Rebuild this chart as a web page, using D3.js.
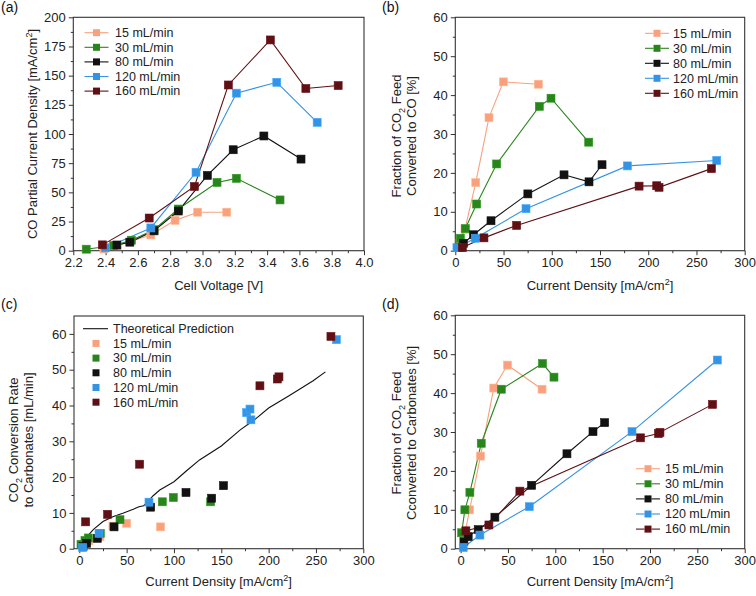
<!DOCTYPE html>
<html><head><meta charset="utf-8">
<script src="https://cdn.jsdelivr.net/npm/d3@7"></script>
<style>body{margin:0;background:#fff} svg text{font-family:"Liberation Sans",Arial,sans-serif}</style>
</head><body><svg id="chart" width="756" height="596"></svg>
<script>
// ---------- data ----------
const flowLabels = ["15 mL/min","30 mL/min","80 mL/min","120 mL/min","160 mL/min"];
const flowColors = ["#F9A17E","#28851C","#111111","#3593E4","#5E1014"];

// (a) Cell voltage [V] vs CO partial current density [mA/cm2]
const a15  = [[2.39,1.5],[2.47,4.2],[2.68,13.5],[2.83,26],[2.97,33],[3.15,33]];
const a30  = [[2.28,1.3],[2.45,4.5],[2.56,9],[2.70,18],[2.85,35.7],[3.09,58.5],[3.21,62],[3.48,43.5]];
const a80  = [[2.47,4.9],[2.55,7.3],[2.70,17],[2.85,34],[3.03,64.5],[3.19,86.5],[3.38,98.3],[3.61,78.5]];
const a120 = [[2.40,2.5],[2.68,19.5],[2.96,67.2],[3.21,135],[3.46,144.3],[3.71,110]];
const a160 = [[2.38,5],[2.67,28],[2.95,55],[3.16,142],[3.42,180.6],[3.64,139],[3.84,141.5]];

// (b) Current density vs fraction of CO2 feed converted to CO [%]
const b15  = [[5,2],[10,5.5],[21.2,17.5],[34.9,34.2],[49.8,43.4],[86.1,42.8]];
const b30  = [[5.2,3.2],[10.4,5.7],[22.1,12],[42.9,22.3],[87.1,37.1],[99.2,39.2],[138.3,27.9]];
const b80  = [[4.5,0.9],[8.3,1.9],[18.9,4.1],[37,7.7],[75.2,14.6],[112.7,19.5],[138.6,17.7],[152.1,22.1]];
const b120 = [[1.7,0.8],[20.7,3.2],[73.3,10.8],[178.4,21.8],[271,23.2]];
const b160 = [[7.3,0.8],[29.7,3.3],[63.6,6.5],[190.5,16.6],[208.8,16.7],[211.2,16.3],[265.5,21.1]];

// (c) Current density vs CO2 conversion rate to carbonates [mL/min]
const cTheory = [[9,3.2],[11,4.2],[15,5.4],[25,7.6],[36,9],[46,9.9],[57,11],[63,11.7],[68,12],[72,13],[78,14.8],[85,16.4],[100,18.7],[113,21.7],[127,24.8],[150,28.7],[170,33.2],[185,36],[200,39.3],[222,42.8],[247,46.9],[260,49.4]];
const c15  = [[5,1.2],[10,2.2],[21.8,3.4],[35.5,6.3],[50,7.1],[85.8,6.1]];
const c30  = [[1.8,1.2],[6,2.3],[9.5,3],[22.2,4.3],[43,8.1],[87.7,13.1],[99.3,14.3],[138.7,13.1]];
const c80  = [[4,0.6],[7.8,1.5],[19,2.9],[36.7,6.1],[75.4,11.6],[112.7,15.7],[139.8,14.1],[152.3,17.6]];
const c120 = [[3.5,0.3],[20.8,4.3],[73.6,13],[176.8,38],[180.3,39],[181.3,36],[271.6,58.4]];
const c160 = [[6.7,7.5],[29.9,9.6],[63.7,23.6],[190.8,45.5],[209.2,47.4],[210.9,48],[265.8,59.3]];

// (d) Current density vs fraction of CO2 feed converted to carbonates [%]
const d15  = [[5,4.5],[9.5,10],[21,23.8],[35,41.3],[49.5,47.2],[86,41]];
const d30  = [[1.1,4.1],[4.5,10],[9.8,14.5],[21.8,27.1],[43,41],[86.5,47.6],[98.6,44.1]];
const d80  = [[3.5,1.8],[8,3.1],[18.6,4.9],[36.2,8.1],[75,16.3],[112.3,24.4],[139.8,30.1],[152.1,32.4]];
const d120 = [[2.8,0.3],[20.4,3.5],[72.5,10.8],[181,30.1],[271.1,48.5]];
const d160 = [[5.6,4.6],[29.9,6.1],[62.6,14.8],[190,28.5],[209,29.6],[210.5,29.9],[266,37.1]];

// tick values
const aXTicks = [2.2,2.4,2.6,2.8,3.0,3.2,3.4,3.6,3.8,4.0];
const aYTicks = [0,25,50,75,100,125,150,175,200];
const cdTicks = [0,50,100,150,200,250,300];
const pctTicks = [0,10,20,30,40,50,60];

// ---------- drawing ----------
const svg = d3.select("#chart");
const FONT = '"Liberation Sans",Arial,sans-serif';

function styleAxis(s){
  s.select(".domain").remove();
  s.attr("font-size",13).attr("font-family",FONT).attr("color","#333");
  s.selectAll("text").attr("fill","#222");
}

function drawPanel(p){
  const g = svg.append("g");
  const x = d3.scaleLinear().domain(p.xDomain).range([p.left,p.right]);
  const y = d3.scaleLinear().domain(p.yDomain).range([p.bottom,p.top]);
  g.append("g").attr("transform",`translate(0,${p.bottom})`)
    .call(d3.axisBottom(x).tickValues(p.xMinor).tickSize(2.5).tickFormat("")).call(styleAxis);
  g.append("g").attr("transform",`translate(${p.left},0)`)
    .call(d3.axisLeft(y).tickValues(p.yMinor).tickSize(2.5).tickFormat("")).call(styleAxis);
  g.append("g").attr("transform",`translate(0,${p.bottom})`)
    .call(d3.axisBottom(x).tickValues(p.xTicks).tickSize(4.5).tickPadding(3).tickFormat(p.xFmt)).call(styleAxis);
  g.append("g").attr("transform",`translate(${p.left},0)`)
    .call(d3.axisLeft(y).tickValues(p.yTicks).tickSize(4.5).tickPadding(3).tickFormat(d3.format("d"))).call(styleAxis);
  g.append("rect").attr("x",p.left).attr("y",p.top).attr("width",p.right-p.left).attr("height",p.bottom-p.top)
    .attr("fill","none").attr("stroke","#333").attr("stroke-width",1.1);
  if(p.theory){
    g.append("path").datum(p.theory).attr("fill","none").attr("stroke","#111").attr("stroke-width",1.1)
      .attr("d",d3.line().x(d=>x(d[0])).y(d=>y(d[1])));
  }
  p.series.forEach((s,i)=>{
    if(p.lines){
      g.append("path").datum(s).attr("fill","none").attr("stroke",flowColors[i]).attr("stroke-width",1.1)
        .attr("d",d3.line().x(d=>x(d[0])).y(d=>y(d[1])));
    }
  });
  p.series.forEach((s,i)=>{
    g.append("g").selectAll("rect").data(s).join("rect")
      .attr("x",d=>x(d[0])-4).attr("y",d=>y(d[1])-4).attr("width",8).attr("height",8)
      .attr("fill",flowColors[i]).attr("stroke",d3.color(flowColors[i]).brighter(0.4)).attr("stroke-width",0.6);
  });
  const L = p.legend;
  let row = 0;
  if(p.theory){
    g.append("line").attr("x1",L.x-13).attr("x2",L.x+12).attr("y1",L.y).attr("y2",L.y).attr("stroke","#111").attr("stroke-width",1.1);
    g.append("text").attr("x",L.tx).attr("y",L.y).attr("dy","0.35em").attr("font-size",12.5).attr("fill","#222").text("Theoretical Prediction");
    row = 1;
  }
  flowLabels.forEach((lab,i)=>{
    const yy = L.y + (row+i)*L.dy;
    if(p.lines){
      g.append("line").attr("x1",L.x-12).attr("x2",L.x-3.5).attr("y1",yy).attr("y2",yy).attr("stroke",flowColors[i]).attr("stroke-width",1.1);
      g.append("line").attr("x1",L.x+3.5).attr("x2",L.x+12).attr("y1",yy).attr("y2",yy).attr("stroke",flowColors[i]).attr("stroke-width",1.1);
    }
    g.append("rect").attr("x",L.x-3.5).attr("y",yy-3.5).attr("width",7).attr("height",7).attr("fill",flowColors[i]);
    g.append("text").attr("x",L.tx).attr("y",yy).attr("dy","0.35em").attr("font-size",12.5).attr("fill","#222").text(lab);
  });
  g.append("text").attr("x",p.label[1]).attr("y",p.label[2]).attr("font-size",14).attr("fill","#111").text(p.label[0]);
  const xt = g.append("text").attr("x",(p.left+p.right)/2).attr("y",p.xTitleY).attr("text-anchor","middle").attr("font-size",13).attr("fill","#222");
  xt.append("tspan").text(p.xTitle[0]);
  if(p.xTitle.length>1){
    xt.append("tspan").attr("font-size",9).attr("dy",-5).text(p.xTitle[1]);
    xt.append("tspan").attr("dy",5).text(p.xTitle[2]);
  }
  p.yTitle.forEach((segs,k)=>{
    const t = g.append("text").attr("transform",`translate(${p.yTitleX[k]},${p.yTitleCY}) rotate(-90)`)
      .attr("text-anchor","middle").attr("dy","0.35em").attr("font-size",13).attr("fill","#222");
    segs.forEach(sg=>{
      if(sg[1]==="sub"){ t.append("tspan").attr("font-size",9).attr("dy",4).text(sg[0]); }
      else if(sg[1]==="sup"){ t.append("tspan").attr("font-size",9).attr("dy",-5).text(sg[0]); }
      else if(sg[1]==="after-sub"){ t.append("tspan").attr("dy",-4).text(sg[0]); }
      else if(sg[1]==="after-sup"){ t.append("tspan").attr("dy",5).text(sg[0]); }
      else { t.append("tspan").text(sg[0]); }
    });
  });
}

const minorCD = [25,75,125,175,225,275];
const minorPct = [5,15,25,35,45,55];

drawPanel({
  left:73.3, right:364, top:17.3, bottom:250.7,
  xDomain:[2.2,4.0], yDomain:[0,200],
  xTicks:aXTicks, yTicks:aYTicks, xFmt:d3.format(".1f"),
  xMinor:[2.3,2.5,2.7,2.9,3.1,3.3,3.5,3.7,3.9], yMinor:[12.5,37.5,62.5,87.5,112.5,137.5,162.5,187.5],
  series:[a15,a30,a80,a120,a160], lines:true,
  legend:{x:96.5, y:32.7, dy:14.6, tx:115},
  label:["(a)",1,12],
  xTitle:["Cell Voltage [V]"], xTitleY:290,
  yTitle:[[["CO Partial Current Density [mA/cm",""],["2","sup"],["]","after-sup"]]], yTitleX:[32], yTitleCY:134
});

drawPanel({
  left:455.3, right:744.7, top:17.3, bottom:250.7,
  xDomain:[0,300], yDomain:[0,60],
  xTicks:cdTicks, yTicks:pctTicks, xFmt:d3.format("d"),
  xMinor:minorCD, yMinor:minorPct,
  series:[b15,b30,b80,b120,b160], lines:true,
  legend:{x:657, y:33.3, dy:15, tx:673},
  label:["(b)",382,12],
  xTitle:["Current Density [mA/cm","2","]"], xTitleY:290,
  yTitle:[[["Fraction of CO",""],["2","sub"],[" Feed","after-sub"]],[["Converted to CO [%]",""]]], yTitleX:[396,411], yTitleCY:136
});

drawPanel({
  left:74, right:363.3, top:316, bottom:548.7,
  xDomain:[-5.6,300], yDomain:[0,65],
  xTicks:cdTicks, yTicks:pctTicks, xFmt:d3.format("d"),
  xMinor:minorCD, yMinor:minorPct,
  series:[c15,c30,c80,c120,c160], lines:false, theory:cTheory,
  legend:{x:96, y:328.7, dy:14.7, tx:113},
  label:["(c)",1,309],
  xTitle:["Current Density [mA/cm","2","]"], xTitleY:586,
  yTitle:[[["CO",""],["2","sub"],[" Conversion Rate","after-sub"]],[["to Carbonates [mL/min]",""]]], yTitleX:[13,28], yTitleCY:440
});

drawPanel({
  left:455.3, right:744.7, top:315.3, bottom:548.7,
  xDomain:[-5.6,300], yDomain:[0,60],
  xTicks:cdTicks, yTicks:pctTicks, xFmt:d3.format("d"),
  xMinor:minorCD, yMinor:minorPct,
  series:[d15,d30,d80,d120,d160], lines:true,
  legend:{x:648, y:468.7, dy:15.1, tx:665},
  label:["(d)",382,309],
  xTitle:["Current Density [mA/cm","2","]"], xTitleY:586,
  yTitle:[[["Fraction of CO",""],["2","sub"],[" Feed","after-sub"]],[["Cconverted to Carbonates [%]",""]]], yTitleX:[396,411], yTitleCY:433
});
</script></body></html>
